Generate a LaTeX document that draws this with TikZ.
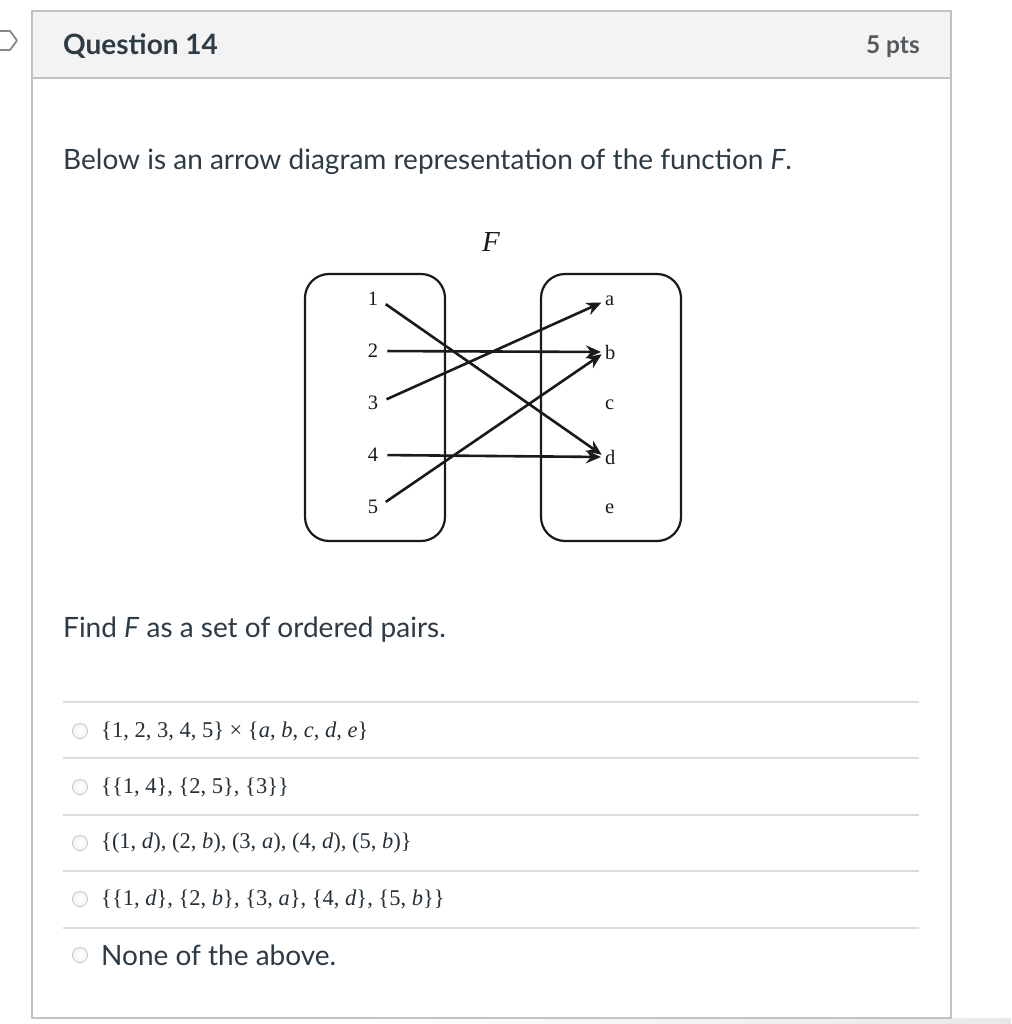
\documentclass[tikz,border=0pt]{standalone}
\usepackage{fontspec}
\setmainfont{Lato}
\newfontfamily\tim{Liberation Serif}
\usetikzlibrary{arrows.meta}
\definecolor{ink}{HTML}{2D3B45}
\definecolor{pts}{HTML}{555A5F}
\definecolor{hdr}{HTML}{F3F3F3}
\definecolor{brd}{HTML}{C2C2C2}
\definecolor{sep}{HTML}{DCDCDC}
\definecolor{rad}{HTML}{C4CACE}
\definecolor{dia}{HTML}{1A1A1A}
\tikzset{
  settxt/.style={font=\tim\fontsize{20.5}{23}\selectfont, text=dia, inner sep=0pt},
  setbox/.style={draw=dia, line width=2.2pt, rounded corners=24pt},
  maparrow/.style={draw=dia, line width=2.6pt, -{Stealth[length=15pt,width=13pt]}, shorten <=9pt, shorten >=4pt},
  bodytxt/.style={font=\fontsize{28}{32}\selectfont, text=ink, anchor=west, inner sep=0pt},
  opttxt/.style={font=\tim\fontsize{22.5}{26}\selectfont, text=ink!80!black, anchor=west, inner sep=0pt},
  radio/.style={circle, draw=rad, line width=0.9pt, inner color=white, outer color=gray!8, minimum size=15pt, inner sep=0pt},
  sepline/.style={draw=sep, line width=1.2pt}
}
\begin{document}
\begin{tikzpicture}[x=1pt,y=-1pt]
\useasboundingbox (0,0) rectangle (1011,1024);
\fill[white] (0,0) rectangle (1011,1024);
% bottom shadow
\shade[left color=white, right color=gray!18] (360,1018) rectangle (1011,1024);
% left icon
\draw[draw=ink!60, line width=1.8pt, line join=round] (-5,31) -- (10,31) -- (17,40.5) -- (10,50) -- (-5,50);
% header
\fill[hdr] (32,11) rectangle (951,78);
\draw[brd, line width=1.5pt] (32,11) rectangle (951,1018);
\draw[brd, line width=1.5pt] (32,78) -- (951,78);
\node[font=\bfseries\fontsize{28}{32}\selectfont, text=ink, anchor=west, inner sep=0pt] (qtitle) at (63,46) {Question 14};
\node[font=\bfseries\fontsize{24.5}{28}\selectfont, text=pts, anchor=east, inner sep=0pt] (qpts) at (920,47) {5 pts};
% body text
\node[bodytxt] (intro) at (63,162) {Below is an arrow diagram representation of the function \textit{F}.};
\node[font=\tim\itshape\fontsize{29}{32}\selectfont, text=dia, inner sep=0pt] (fname) at (491,242) {F};
% sets
\draw[setbox] (305,274) rectangle (445,541);
\draw[setbox] (541,274) rectangle (681,541);
\foreach \n/\y in {1/299,2/351,3/403,4/455,5/507}
  \node[settxt] (n\n) at (373,\y) {\n};
\foreach \l/\y in {a/301,b/352,c/405,d/457,e/509}
  \node[settxt, anchor=west] (l\l) at (605,\y) {\l};
\draw[maparrow] (n1.east) -- (ld.west);
\draw[maparrow] (n2.east) -- (lb.west);
\draw[maparrow] (n3.east) -- (la.west);
\draw[maparrow] (n4.east) -- (ld.west);
\draw[maparrow] (n5.east) -- (lb.west);
% question
\node[bodytxt] (find) at (63,630) {Find \textit{F} as a set of ordered pairs.};
% options
\foreach \y/\k in {702/s1,758/s2,815/s3,871/s4,928/s5}
  \draw[sepline] (63,\y) coordinate (\k a) -- (919,\y) coordinate (\k b);
\foreach \y/\k in {731/r1,787/r2,843/r3,899/r4,955/r5}
  \node[radio] (\k) at (80,\y) {};
\node[opttxt] (o1) at (101,731) {\{1, 2, 3, 4, 5\} × \{\textit{a}, \textit{b}, \textit{c}, \textit{d}, \textit{e}\}};
\node[opttxt] (o2) at (101,787) {\{\{1, 4\}, \{2, 5\}, \{3\}\}};
\node[opttxt] (o3) at (101,843) {\{(1, \textit{d}), (2, \textit{b}), (3, \textit{a}), (4, \textit{d}), (5, \textit{b})\}};
\node[opttxt] (o4) at (101,899) {\{\{1, \textit{d}\}, \{2, \textit{b}\}, \{3, \textit{a}\}, \{4, \textit{d}\}, \{5, \textit{b}\}\}};
\node[bodytxt] (o5) at (101,955) {None of the above.};
\end{tikzpicture}
\end{document}
